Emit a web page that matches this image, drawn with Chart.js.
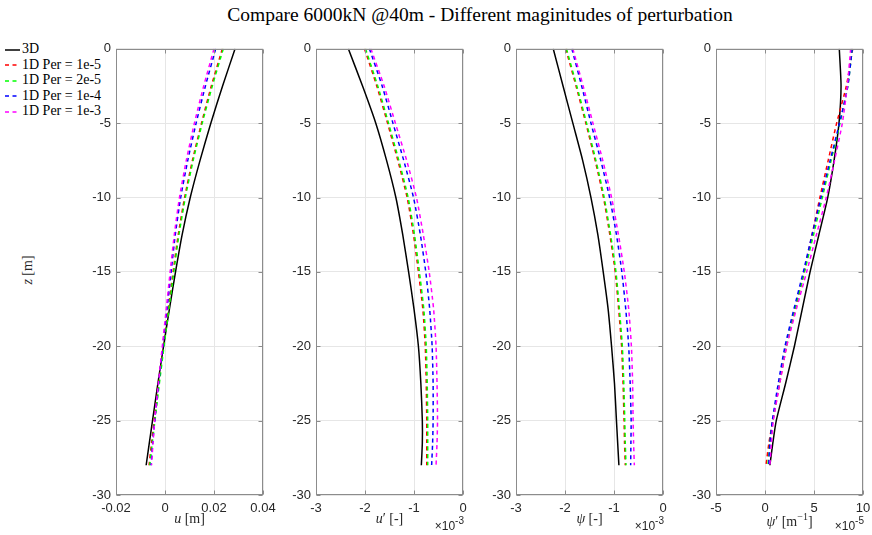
<!DOCTYPE html>
<html><head><meta charset="utf-8">
<script src="https://cdn.jsdelivr.net/npm/chart.js@4/dist/chart.umd.min.js"></script>
<style>
html,body{margin:0;padding:0;background:#fff;}
body{width:872px;height:535px;position:relative;overflow:hidden;font-family:"Liberation Serif",serif;color:#000;}
canvas{position:absolute;}
.title{position:absolute;left:0;width:960px;top:4px;text-align:center;font-size:19.5px;white-space:nowrap;}
.xlab{position:absolute;top:511px;width:147px;text-align:center;font-size:14px;color:#262626;white-space:nowrap;}
.expo{position:absolute;top:516px;font-family:"Liberation Sans",sans-serif;font-size:12px;color:#262626;white-space:nowrap;text-align:right;width:60px;}
.expo sup{font-size:10px;position:relative;top:-1px;}
.ylab{position:absolute;left:-2px;top:262px;width:60px;text-align:center;font-size:14px;color:#262626;transform:rotate(-90deg);white-space:nowrap;}
.leg{position:absolute;left:4px;font-size:14px;white-space:nowrap;height:16px;line-height:16px;}
.leg svg{vertical-align:middle;margin-right:2px;}
</style></head>
<body>
<div class="title">Compare 6000kN @40m - Different maginitudes of perturbation</div>
<div class="ylab"><i>z</i> [m]</div>
<div id="legend"></div>
<canvas id="c1" width="217" height="499" style="left:66px;top:36px"></canvas>
<canvas id="c2" width="217" height="499" style="left:266px;top:36px"></canvas>
<canvas id="c3" width="217" height="499" style="left:466px;top:36px"></canvas>
<canvas id="c4" width="217" height="499" style="left:666px;top:36px"></canvas>
<div class="xlab" style="left:116px"><i>u</i> [m]</div>
<div class="xlab" style="left:316px"><i>u</i>&prime; [-]</div>
<div class="xlab" style="left:516px"><i>&psi;</i> [-]</div>
<div class="xlab" style="left:716px"><i>&psi;</i>&prime; [m<sup style="font-size:10px">&minus;1</sup>]</div>
<div class="expo" style="left:404px">&times;10<sup>-3</sup></div>
<div class="expo" style="left:604px">&times;10<sup>-3</sup></div>
<div class="expo" style="left:804px">&times;10<sup>-5</sup></div>
<script>
// ---------- data ----------
const depth = [0, -2.5, -5, -7.5, -10, -12.5, -15, -17.5, -20, -22.5, -25, -26.5, -28];
const seriesLabels = ['3D', '1D Per = 1e-5', '1D Per = 2e-5', '1D Per = 1e-4', '1D Per = 1e-3'];
const seriesColors = ['#000000', '#ff0000', '#00ff00', '#0000ff', '#ff00ff'];

// u [m]
const u_3D  = [0.0286, 0.0235, 0.0187, 0.0143, 0.0103, 0.0070, 0.0043, 0.0018, -0.0006, -0.0029, -0.0051, -0.0064, -0.0077];
const u_1e5 = [0.0234, 0.0189, 0.0149, 0.0112, 0.0080, 0.0054, 0.0033, 0.0013, -0.0007, -0.0026, -0.0044, -0.0055, -0.0065];
const u_2e5 = [0.0238, 0.0193, 0.0152, 0.0115, 0.0083, 0.0057, 0.0036, 0.0016, -0.0004, -0.0023, -0.0041, -0.0052, -0.0062];
const u_1e4 = [0.0207, 0.0165, 0.0127, 0.0093, 0.0064, 0.0042, 0.0025, 0.0008, -0.0009, -0.0026, -0.0042, -0.0050, -0.0057];
const u_1e3 = [0.0200, 0.0158, 0.0120, 0.0087, 0.0059, 0.0038, 0.0021, 0.0005, -0.0011, -0.0027, -0.0042, -0.0049, -0.0055];

// u' [-] (x 1e-3)
const du_3D  = [-2.34, -2.05, -1.78, -1.56, -1.37, -1.23, -1.11, -1.00, -0.91, -0.86, -0.83, -0.83, -0.85];
const du_1e5 = [-2.01, -1.76, -1.54, -1.33, -1.14, -1.01, -0.91, -0.82, -0.77, -0.75, -0.74, -0.74, -0.74];
const du_2e5 = [-1.99, -1.74, -1.52, -1.31, -1.12, -0.99, -0.89, -0.80, -0.75, -0.73, -0.72, -0.72, -0.72];
const du_1e4 = [-1.91, -1.65, -1.43, -1.21, -1.01, -0.87, -0.76, -0.68, -0.63, -0.61, -0.61, -0.62, -0.64];
const du_1e3 = [-1.88, -1.61, -1.38, -1.15, -0.95, -0.81, -0.69, -0.60, -0.55, -0.53, -0.52, -0.53, -0.55];

// psi [-] (x 1e-3)
const psi_3D  = [-2.24, -2.04, -1.84, -1.64, -1.47, -1.33, -1.22, -1.12, -1.05, -0.99, -0.95, -0.925, -0.90];
const psi_1e5 = [-1.985, -1.775, -1.575, -1.385, -1.215, -1.085, -0.975, -0.905, -0.845, -0.815, -0.795, -0.785, -0.77];
const psi_2e5 = [-1.97, -1.76, -1.56, -1.37, -1.20, -1.07, -0.96, -0.89, -0.83, -0.80, -0.78, -0.77, -0.755];
const psi_1e4 = [-1.86, -1.66, -1.47, -1.27, -1.09, -0.95, -0.84, -0.76, -0.70, -0.67, -0.65, -0.655, -0.66];
const psi_1e3 = [-1.84, -1.63, -1.43, -1.23, -1.05, -0.91, -0.79, -0.70, -0.645, -0.62, -0.61, -0.60, -0.585];

// psi' [1/m] (x 1e-5)
const dpsi_3D  = [7.58, 7.76, 7.55, 7.05, 6.4, 5.5, 4.6, 3.8, 3.0, 2.1, 1.15, 0.8, 0.5];
const dpsi_1e5 = [8.95, 8.3, 7.31, 6.45, 5.6, 4.8, 4.0, 3.1, 2.2, 1.5, 0.8, 0.4, 0.1];
const dpsi_2e5 = [8.9, 8.45, 7.65, 6.75, 5.85, 4.95, 4.03, 3.05, 2.15, 1.45, 0.8, 0.5, 0.3];
const dpsi_1e4 = [8.9, 8.45, 7.6, 6.65, 5.71, 4.8, 3.91, 2.95, 2.04, 1.35, 0.75, 0.5, 0.38];
const dpsi_1e3 = [8.74, 8.4, 7.89, 7.1, 6.25, 5.25, 4.25, 3.2, 2.21, 1.5, 0.85, 0.65, 0.5];

// ticks
const yTicks = [0, -5, -10, -15, -20, -25, -30];
const yTickLabels = ['0', '-5', '-10', '-15', '-20', '-25', '-30'];
const xTicks1 = [-0.02, 0, 0.02, 0.04];
const xTickLabels1 = ['-0.02', '0', '0.02', '0.04'];
const xTicks2 = [-3, -2, -1, 0];
const xTickLabels2 = ['-3', '-2', '-1', '0'];
const xTicks3 = [-3, -2, -1, 0];
const xTickLabels3 = ['-3', '-2', '-1', '0'];
const xTicks4 = [-5, 0, 5, 10];
const xTickLabels4 = ['-5', '0', '5', '10'];

// ---------- styling ----------
const DASH = [4, 3.5];
const FRAME = '#8c8c8c';
const GRID = '#e6e6e6';
const TICKCOL = '#262626';

// legend (HTML)
const legTops = [41, 56.5, 72, 87.5, 103];
const legEl = document.getElementById('legend');
seriesLabels.forEach((lab, i) => {
  const d = document.createElement('div');
  d.className = 'leg';
  d.style.top = legTops[i] + 'px';
  const dash = i === 0 ? '' : 'stroke-dasharray="4 3.5"';
  d.innerHTML = '<svg width="16" height="4"><line x1="1" y1="2" x2="16" y2="2" stroke="' + seriesColors[i] +
    '" stroke-width="1.5" ' + dash + '/></svg>' + lab;
  legEl.appendChild(d);
});

const framePlugin = {
  id: 'frame',
  afterDatasetsDraw(chart) {
    const {ctx, chartArea: a, scales} = chart;
    ctx.save();
    ctx.strokeStyle = FRAME;
    ctx.lineWidth = 1;
    const L = Math.round(a.left) + 0.5, R = Math.round(a.right) - 0.5;
    const T = Math.round(a.top) + 0.5, B = Math.round(a.bottom) - 0.5;
    ctx.strokeRect(L, T, R - L, B - T);
    ctx.beginPath();
    const tl = 4;
    scales.x.ticks.forEach(t => {
      const px = Math.round(scales.x.getPixelForValue(t.value)) + 0.5;
      ctx.moveTo(px, B); ctx.lineTo(px, B - tl);
      ctx.moveTo(px, T); ctx.lineTo(px, T + tl);
    });
    scales.y.ticks.forEach(t => {
      const py = Math.round(scales.y.getPixelForValue(t.value)) + 0.5;
      ctx.moveTo(L, py); ctx.lineTo(L + tl, py);
      ctx.moveTo(R, py); ctx.lineTo(R - tl, py);
    });
    ctx.stroke();
    ctx.restore();
  }
};

function makeChart(id, arrays, xMin, xMax, xTicks, xLabels) {
  const datasets = arrays.map((arr, i) => ({
    label: seriesLabels[i],
    data: depth.map((z, k) => ({x: arr[k], y: z})),
    showLine: true,
    borderColor: seriesColors[i],
    backgroundColor: seriesColors[i],
    borderWidth: 1.5,
    borderDash: i === 0 ? [] : DASH,
    pointRadius: 0,
    tension: 0.2,
    fill: false,
    order: 5 - i
  }));
  new Chart(document.getElementById(id), {
    type: 'scatter',
    data: {datasets},
    options: {
      responsive: false, animation: false, devicePixelRatio: 1,
      layout: {padding: {top: 10, right: 20, bottom: 0, left: 0}},
      plugins: {legend: {display: false}, tooltip: {enabled: false}, title: {display: false}},
      scales: {
        x: {
          type: 'linear', min: xMin, max: xMax,
          afterBuildTicks: s => { s.ticks = xTicks.map(v => ({value: v})); },
          afterFit: s => { s.height = 40; },
          grid: {color: GRID, drawTicks: false, lineWidth: 1},
          border: {display: false},
          ticks: {padding: 6, color: TICKCOL, maxRotation: 0, autoSkip: false,
            font: {family: 'Liberation Sans', size: 13},
            callback: (v, idx) => xLabels[idx]}
        },
        y: {
          type: 'linear', min: -30, max: 0,
          afterBuildTicks: s => { s.ticks = yTicks.map(v => ({value: v})); },
          afterFit: s => { s.width = 50; },
          grid: {color: GRID, drawTicks: false, lineWidth: 1},
          border: {display: false},
          ticks: {padding: 5, color: TICKCOL, autoSkip: false,
            font: {family: 'Liberation Sans', size: 13},
            callback: (v, idx) => yTickLabels[idx]}
        }
      }
    },
    plugins: [framePlugin]
  });
}

makeChart('c1', [u_3D, u_1e5, u_2e5, u_1e4, u_1e3], -0.02, 0.04, xTicks1, xTickLabels1);
makeChart('c2', [du_3D, du_1e5, du_2e5, du_1e4, du_1e3], -3, 0, xTicks2, xTickLabels2);
makeChart('c3', [psi_3D, psi_1e5, psi_2e5, psi_1e4, psi_1e3], -3, 0, xTicks3, xTickLabels3);
makeChart('c4', [dpsi_3D, dpsi_1e5, dpsi_2e5, dpsi_1e4, dpsi_1e3], -5, 10, xTicks4, xTickLabels4);
</script>
</body></html>
